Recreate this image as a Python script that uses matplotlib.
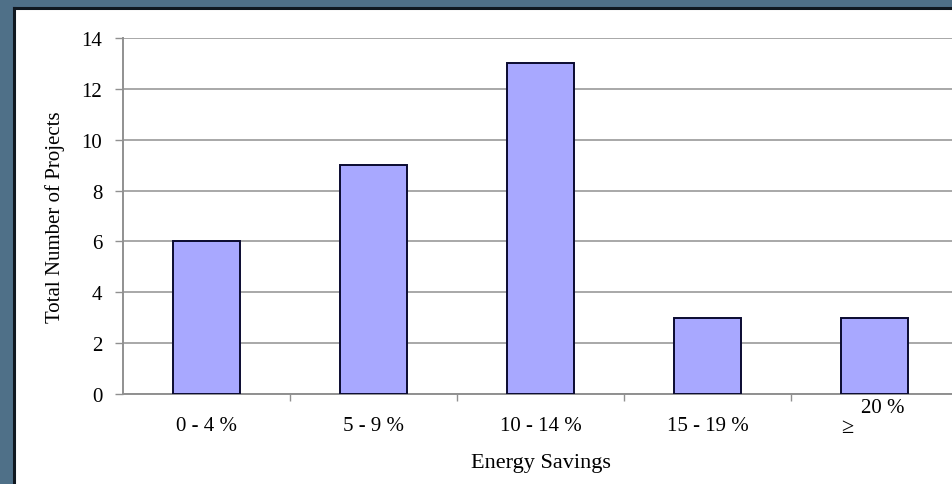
import matplotlib
matplotlib.use("Agg")
import matplotlib.pyplot as plt
from matplotlib.patches import Rectangle
from matplotlib.lines import Line2D

categories = ["0 - 4 %", "5 - 9 %", "10 - 14 %", "15 - 19 %", "≥ 20 %"]
projects = [6, 9, 13, 3, 3]
y_ticks = [0, 2, 4, 6, 8, 10, 12, 14]

plt.rcParams['font.family'] = ['Liberation Serif', 'DejaVu Serif']

W, H = 953, 485
fig = plt.figure(figsize=(W / 100, H / 100), dpi=100)
fig.patch.set_facecolor('#4f7088')

# white slide panel with dark edge
px0, py1 = 14 / W, 1 - 9 / H
fig.patches.append(Rectangle((px0, -0.01), 1.02 - px0, py1 + 0.01,
                             transform=fig.transFigure, facecolor='white',
                             edgecolor='none', zorder=-2))
fig.lines.append(Line2D([px0, px0], [-0.01, py1], transform=fig.transFigure,
                        color='#101820', lw=2.2, zorder=-1))
fig.lines.append(Line2D([px0, 1.01], [py1, py1], transform=fig.transFigure,
                        color='#101820', lw=2.2, zorder=-1))

ax_left, ax_right = 123 / W, 958 / W
ax_bottom, ax_top = 1 - 395 / H, 1 - 39 / H
ax = fig.add_axes([ax_left, ax_bottom, ax_right - ax_left, ax_top - ax_bottom])
ax.set_zorder(2)
ax.set_facecolor('none')

x = list(range(len(categories)))
ax.bar(x, projects, width=0.4, color='#a8a8ff', edgecolor='#0a0a30',
       linewidth=1.4, zorder=3)

ax.set_xlim(-0.5, len(categories) - 0.5)
ax.set_ylim(0, 14)
ax.set_yticks(y_ticks)
ax.set_yticklabels([str(v) for v in y_ticks], fontsize=15)
ax.yaxis.grid(True, color='#a8a8a8', linewidth=1.4, zorder=0)
ax.tick_params(axis='y', length=6, width=1, color='#909090', pad=9)

# category labels; the last one is set apart as in the original layout
ax.set_xticks(x)
ax.set_xticklabels(categories[:-1] + [""], fontsize=15)
ax.tick_params(axis='x', which='major', length=0, pad=16)
ax.set_xticks([i + 0.5 for i in x[:-1]], minor=True)
ax.tick_params(axis='x', which='minor', length=5, width=1, color='#909090')
sym, rest = categories[-1].split(" ", 1)
ax.annotate(sym, xy=(x[-1], 0), xycoords=('data', 'axes fraction'),
            xytext=(-19.8, -23.8), textcoords='offset points',
            ha='center', va='center', fontsize=16)
ax.annotate(rest, xy=(x[-1], 0), xycoords=('data', 'axes fraction'),
            xytext=(6.1, -9.4), textcoords='offset points',
            ha='center', va='center', fontsize=15)

for s in ['top', 'right']:
    ax.spines[s].set_visible(False)
ax.spines['left'].set_color('#909090')
ax.spines['bottom'].set_color('#909090')
ax.spines['left'].set_linewidth(1.4)
ax.spines['bottom'].set_linewidth(1.4)

ax.set_xlabel("Energy Savings", fontsize=16, labelpad=13)
ax.set_ylabel("Total Number of Projects", fontsize=15, labelpad=12)

fig.savefig("out.png", dpi=100, facecolor=fig.get_facecolor())
